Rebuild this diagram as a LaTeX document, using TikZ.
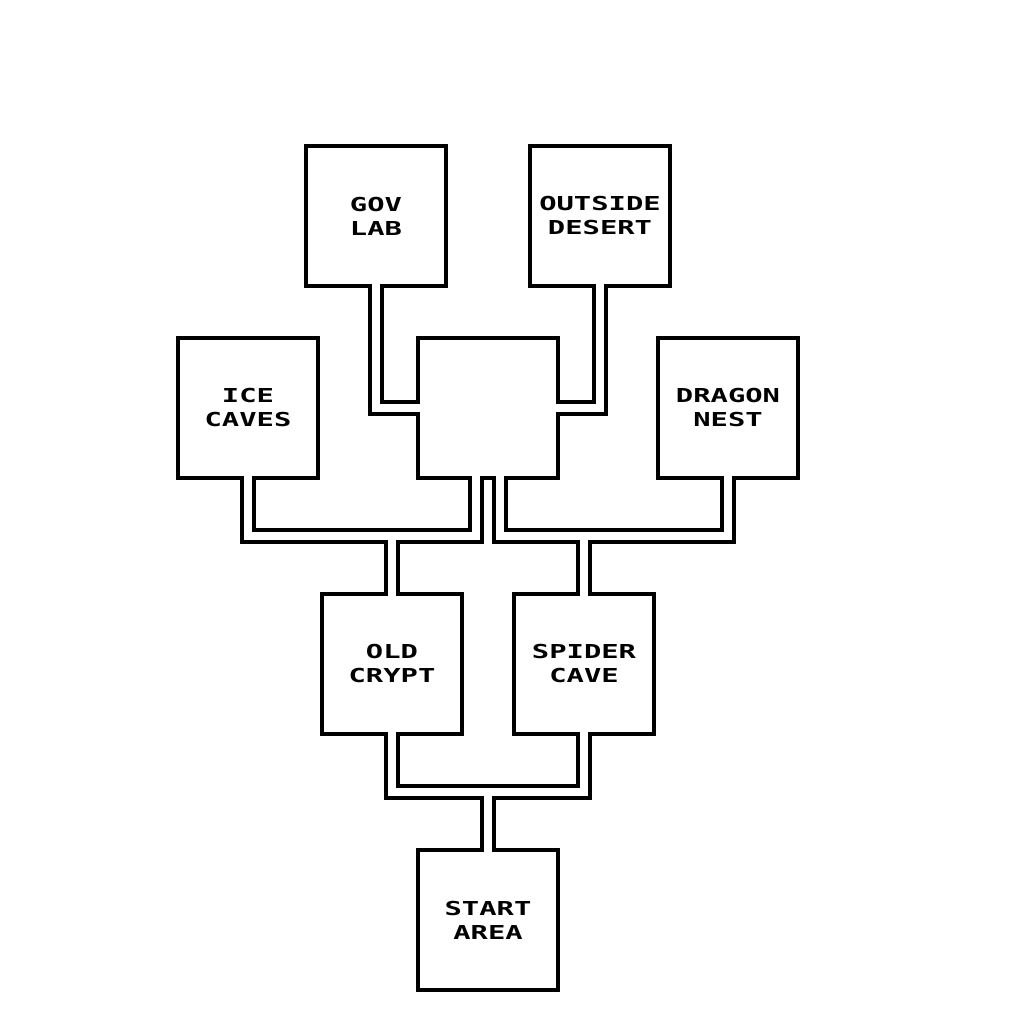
\documentclass[tikz,border=0pt]{standalone}
\usepackage{fontspec}
\usepackage{tikz}
\usetikzlibrary{calc}
\newfontfamily\pixfont[FakeStretch=1.5]{DejaVu Sans Mono Bold}
\tikzset{
  room/.style={draw=black, line width=4pt, minimum size=140pt, inner sep=0pt, outer sep=0pt,
    align=center, font=\pixfont\fontsize{19.2}{24}\selectfont},
  wall/.style={draw=black, line width=16pt},
  floor/.style={draw=white, line width=8pt, shorten <=-3pt, shorten >=-3pt},
}
% every corridor, drawn once as walls and once as floor
\newcommand\halls[1]{%
  \draw[#1] (gov.south) |- (hub.west);
  \draw[#1] (desert.south) |- (hub.east);
  \draw[#1] (ice.south) |- (lowl) -- (lowl |- hub.south);
  \draw[#1] (dragon.south) |- (lowr) -- (lowr |- hub.south);
  \draw[#1] (crypt.north) -- (crypt.north |- lowl);
  \draw[#1] (spider.north) -- (spider.north |- lowr);
  \draw[#1] (start.north) -- (base) -| (crypt.south);
  \draw[#1] (start.north) -- (base) -| (spider.south);
}

\begin{document}
\begin{tikzpicture}[x=1pt, y=-1pt]
  \fill[white] (0,0) rectangle (1024,1024);

  \node[room] (gov)    at (376,216) {GOV\\LAB};
  \node[room] (desert) at (600,216) {OUTSIDE\\DESERT};
  \node[room] (ice)    at (248,408) {ICE\\CAVES};
  \node[room] (hub)    at (488,408) {};
  \node[room] (dragon) at (728,408) {DRAGON\\NEST};
  \node[room] (crypt)  at (392,664) {OLD\\CRYPT};
  \node[room] (spider) at (584,664) {SPIDER\\CAVE};
  \node[room] (start)  at (488,920) {START\\AREA};

  \coordinate (lowl) at (476,536);
  \coordinate (lowr) at (500,536);
  \coordinate (base) at (488,792);

  \halls{wall}
  \halls{floor}
\end{tikzpicture}
\end{document}
